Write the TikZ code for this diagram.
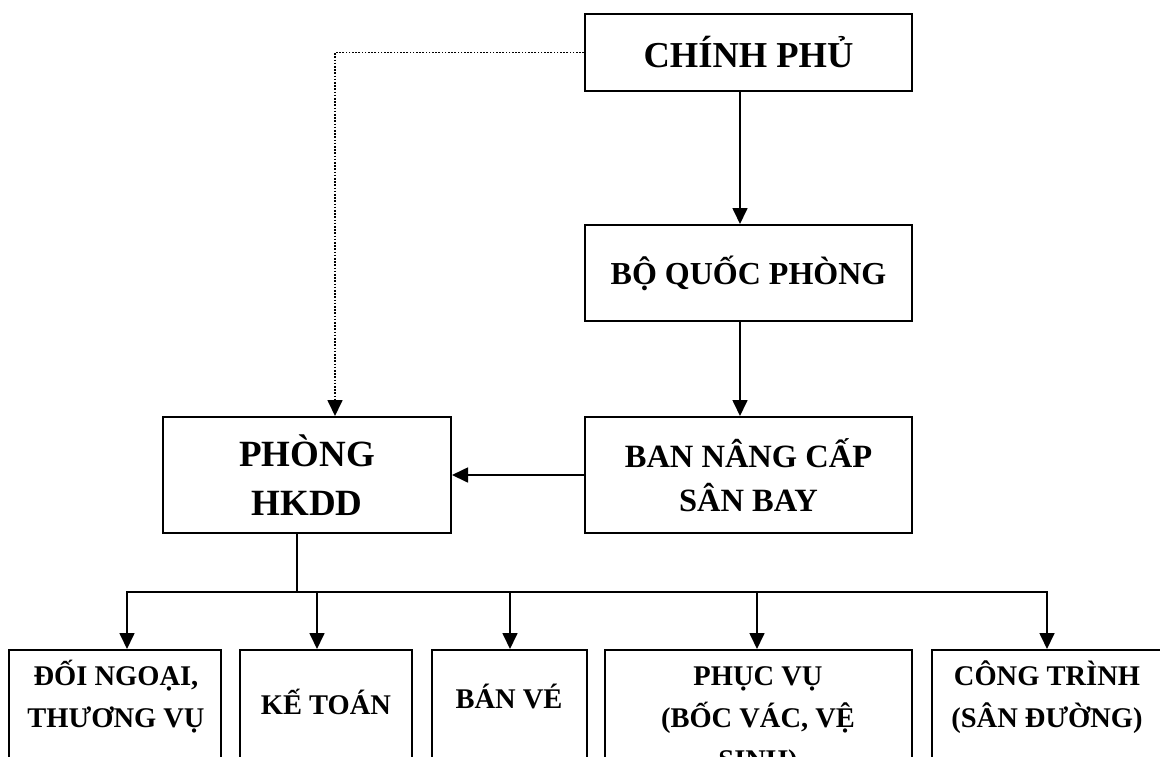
\documentclass[tikz,border=0pt]{standalone}
\usepackage{fontspec}
\setmainfont{Liberation Serif}
\usetikzlibrary{arrows.meta}

\begin{document}
\begin{tikzpicture}[x=1pt,y=-1pt]

\useasboundingbox (0,0) rectangle (1160,756);
\clip (0,0) rectangle (1160,756);

\tikzset{OrgBox/.style={rectangle, draw, line width=2pt, fill=white, inner sep=0pt, align=center},
         UnitBox/.style={OrgBox, minimum height=130pt},
         UnitText/.style={align=center, inner sep=0pt, font=\bfseries\fontsize{28.5}{42}\selectfont}}

\begin{scope}[every node/.style={OrgBox}]
    % Upper chain
    \node (cp) at (748.5,52.5) [minimum width=327pt, minimum height=77pt, font=\bfseries\fontsize{36.5}{42}\selectfont]
        {CHÍNH PHỦ};
    \node (bqp) at (748.5,273) [minimum width=327pt, minimum height=96pt, font=\bfseries\fontsize{32}{40}\selectfont]
        {BỘ QUỐC PHÒNG};
    \node (ban) at (748.5,475) [minimum width=327pt, minimum height=116pt, font=\bfseries\fontsize{32.5}{44}\selectfont]
        {BAN NÂNG CẤP\\SÂN BAY};
    \node (hkdd) at (307,475) [minimum width=288pt, minimum height=116pt, font=\bfseries\fontsize{37}{49}\selectfont]
        {PHÒNG\\HKDD};

    % Lower units
    \node (dn) at (115,715) [UnitBox, minimum width=212pt] {};
    \node (kt) at (326,715) [UnitBox, minimum width=172pt] {};
    \node (bv) at (509.5,715) [UnitBox, minimum width=155pt] {};
    \node (pv) at (758.5,715) [UnitBox, minimum width=307pt] {};
    \node (ct) at (1047,715) [UnitBox, minimum width=230pt] {};
\end{scope}

\node (dnt) at (116,697) [UnitText] {ĐỐI NGOẠI,\\THƯƠNG VỤ};
\node (ktt) at (326,702) [UnitText] {KẾ TOÁN};
\node (bvt) at (509,696) [UnitText] {BÁN VÉ};
\node (pvt) at (758,721) [UnitText] {PHỤC VỤ\\(BỐC VÁC, VỆ\\SINH)};
\node (ctt) at (1047,697) [UnitText] {CÔNG TRÌNH\\(SÂN ĐƯỜNG)};

\coordinate (fork) at (297,592);

\begin{scope}[>={Triangle[length=16pt,width=15pt]},
              every edge/.style={draw,line width=1.7pt}]
    \path [->] ([xshift=-8.5pt]cp.south) edge ([xshift=-8.5pt]bqp.north);
    \path [->] ([xshift=-8.5pt]bqp.south) edge ([xshift=-8.5pt]ban.north);
    \path [->] (ban.west) edge (hkdd.east);
    \path [->] (cp.west) edge [line width=1.7pt, dash pattern=on 1.7pt off 1.5pt, to path={-| (\tikztotarget)}]
        ([xshift=28pt]hkdd.north);

    % Tree to the units
    \path (fork |- hkdd.south) edge (fork);
    \path [->] (fork) edge [to path={-| (\tikztotarget)}] ([xshift=12pt]dn.north);
    \path [->] (fork) edge [to path={-| (\tikztotarget)}] ([xshift=-9pt]kt.north);
    \path [->] (fork) edge [to path={-| (\tikztotarget)}] ([xshift=0.5pt]bv.north);
    \path [->] (fork) edge [to path={-| (\tikztotarget)}] ([xshift=-1.5pt]pv.north);
    \path [->] (fork) edge [to path={-| (\tikztotarget)}] (ct.north);
\end{scope}

\end{tikzpicture}
\end{document}
